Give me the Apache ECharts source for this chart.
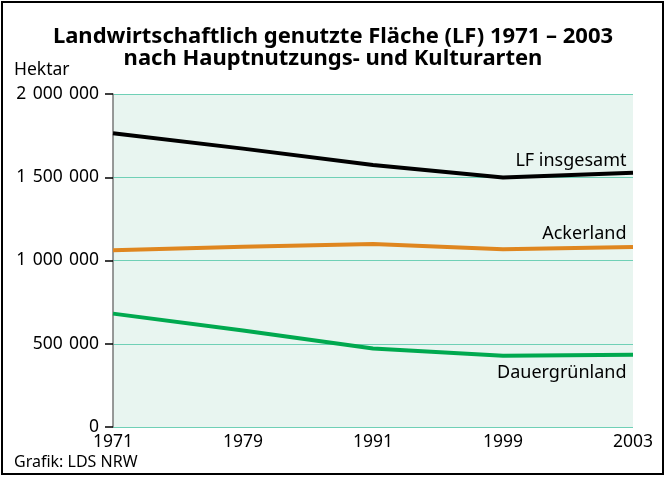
<!DOCTYPE html>
<html>
<head>
<meta charset="UTF-8">
<title>LF 1971-2003</title>
<script src="https://cdn.jsdelivr.net/npm/echarts@6/dist/echarts.min.js"></script>
<style>
  html, body { margin: 0; padding: 0; background: #fff; }
  #chart { width: 666px; height: 477px; }
</style>
</head>
<body>
<div id="chart"></div>
<script>
// Jahre (Kategorien)
var years = ['1971', '1979', '1991', '1999', '2003'];
// Werte in Hektar
var lfGesamt = [1764000, 1672000, 1573000, 1498000, 1527000];
var ackerland = [1061000, 1082000, 1099000, 1068000, 1081000];
var dauergruen = [681000, 580000, 472000, 428000, 434000];
var seriesNames = ['LF insgesamt', 'Ackerland', 'Dauergrünland'];
var seriesColors = ['#000000', '#df861f', '#00a94f'];

var font = 'Noto Sans';

// Tausendertrennung mit Leerzeichen (etwas breiter)
function fmt(v) {
  return String(v).replace(/\B(?=(\d{3})+(?!\d))/g, ' \u200A');
}

// Beschriftung am Linienende (2003)
function endLabel(name, data, dy) {
  return {
    symbol: 'circle',
    symbolSize: 1,
    silent: true,
    itemStyle: { color: 'rgba(0,0,0,0)' },
    data: [{
      coord: [years.length - 1, data[data.length - 1]],
      label: {
        show: true,
        formatter: name,
        position: 'left',
        distance: 0,
        offset: [-6, dy],
        color: '#000',
        fontFamily: font,
        fontSize: 18
      }
    }]
  };
}

var chart = echarts.init(document.getElementById('chart'));

var option = {
  animation: false,
  backgroundColor: '#fff',
  title: {
    text: 'Landwirtschaftlich genutzte Fläche (LF) 1971 – 2003\nnach Hauptnutzungs- und Kulturarten',
    left: 'center',
    top: 21,
    textStyle: {
      fontFamily: font,
      fontWeight: 'bold',
      fontSize: 22,
      lineHeight: 22,
      color: '#000'
    }
  },
  graphic: [
    {
      type: 'rect',
      shape: { x: 2, y: 2, width: 661, height: 472 },
      style: { fill: 'none', stroke: '#000', lineWidth: 2 }
    },
    {
      type: 'text',
      left: 14,
      top: 61,
      style: { text: 'Hektar', fontFamily: font, fontSize: 17.5, fill: '#000' }
    },
    {
      type: 'text',
      left: 14,
      top: 454,
      style: { text: 'Grafik: LDS NRW', fontFamily: font, fontSize: 16, fill: '#000' }
    }
  ],
  grid: {
    left: 113,
    right: 33,
    top: 94,
    bottom: 50,
    show: true,
    backgroundColor: '#e8f5f0',
    borderWidth: 0
  },
  xAxis: {
    type: 'category',
    data: years,
    boundaryGap: false,
    axisLine: { show: false },
    axisTick: { show: false },
    axisLabel: {
      color: '#000',
      fontFamily: font,
      fontSize: 17.5,
      margin: 6
    }
  },
  yAxis: {
    type: 'value',
    min: 0,
    max: 2000000,
    interval: 500000,
    axisLine: { show: true, lineStyle: { color: '#777', width: 1.5 } },
    axisTick: { show: true, length: 8, lineStyle: { color: '#000', width: 1.5 } },
    axisLabel: {
      color: '#000',
      fontFamily: font,
      fontSize: 17.5,
      margin: 14,
      formatter: fmt
    },
    splitLine: { lineStyle: { color: '#6fd0b6', width: 1 } }
  },
  series: [
    {
      name: seriesNames[0],
      type: 'line',
      data: lfGesamt,
      symbol: 'none',
      lineStyle: { color: seriesColors[0], width: 4 },
      markPoint: endLabel(seriesNames[0], lfGesamt, -12)
    },
    {
      name: seriesNames[1],
      type: 'line',
      data: ackerland,
      symbol: 'none',
      lineStyle: { color: seriesColors[1], width: 4 },
      markPoint: endLabel(seriesNames[1], ackerland, -13)
    },
    {
      name: seriesNames[2],
      type: 'line',
      data: dauergruen,
      symbol: 'none',
      lineStyle: { color: seriesColors[2], width: 4 },
      markPoint: endLabel(seriesNames[2], dauergruen, 18)
    }
  ]
};

chart.setOption(option);
</script>
</body>
</html>
